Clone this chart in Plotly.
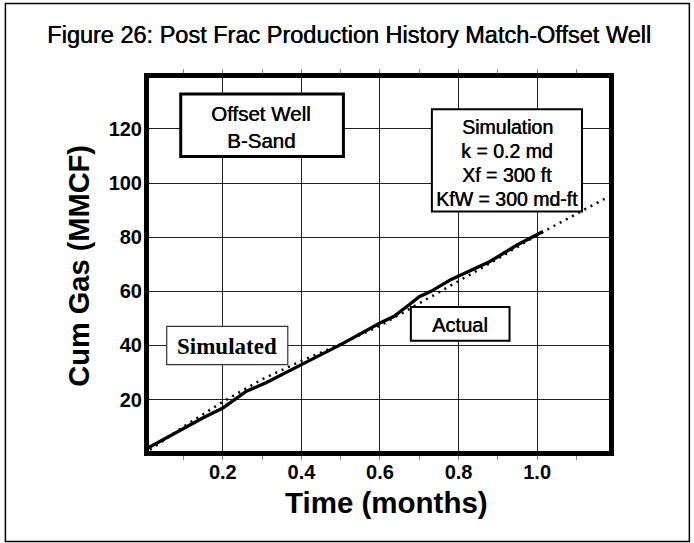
import plotly.graph_objects as go

# Actual production (solid) and simulated (dotted), cum gas in MMCF vs months
actual_time = [0.01, 0.05, 0.1, 0.15, 0.2, 0.26, 0.31, 0.4, 0.5, 0.6, 0.635, 0.675, 0.7, 0.73, 0.78, 0.88, 0.95, 1.015]
actual_gas = [2.2, 5.5, 9.3, 13.3, 16.9, 23.1, 26.2, 32.9, 40.3, 48.3, 50.7, 55.1, 58.0, 60.0, 64.3, 71.0, 77.2, 82.1]

sim_time = [0.0, 0.1, 0.2, 0.3, 0.4, 0.5, 0.6, 0.7, 0.8, 0.9, 1.0, 1.1, 1.18]
sim_gas = [0.0, 10.0, 19.2, 27.5, 34.3, 40.5, 47.3, 55.5, 63.8, 72.0, 80.8, 88.5, 94.8]

x_tick_vals = [0.2, 0.4, 0.6, 0.8, 1.0]
x_tick_text = ["0.2", "0.4", "0.6", "0.8", "1.0"]
y_tick_vals = [20, 40, 60, 80, 100, 120]

W, H = 694, 543
PLOT_L, PLOT_R, PLOT_T, PLOT_B = 149, 608.7, 78, 451.5

ARIAL = "Liberation Sans, Arial, sans-serif"
SERIF = "Liberation Serif, Times New Roman, serif"
HEAVY = "0.5px 0px 0px black"  # thickens the regular face a little


def px_x(p):
    return (p - PLOT_L) / (PLOT_R - PLOT_L)


def px_y(p):
    return (PLOT_B - p) / (PLOT_B - PLOT_T)


def box(x0, y0, x1, y1, width, color="black"):
    return dict(type="rect", xref="paper", yref="paper",
                x0=px_x(x0), x1=px_x(x1), y0=px_y(y1), y1=px_y(y0),
                line=dict(color=color, width=width), fillcolor="white", layer="above")


def label(text, x, y, size, family=ARIAL, angle=0, weight="normal", shadow=HEAVY):
    return dict(text=text, xref="paper", yref="paper", x=px_x(x), y=px_y(y),
                xanchor="center", yanchor="middle", showarrow=False, textangle=angle,
                font=dict(family=family, size=size, color="black", weight=weight, shadow=shadow))


fig = go.Figure()
fig.add_trace(go.Scatter(x=sim_time, y=sim_gas, mode="lines", name="Simulated",
                         line=dict(color="black", width=2.5, dash="2px,5px")))
fig.add_trace(go.Scatter(x=actual_time, y=actual_gas, mode="lines", name="Actual",
                         line=dict(color="black", width=3.3)))

shapes = [
    # outer frame
    dict(type="rect", xref="paper", yref="paper",
         x0=px_x(5.5), x1=px_x(689), y0=px_y(542), y1=px_y(3.5),
         line=dict(color="black", width=1.5), layer="below"),
    box(180.7, 94, 343.3, 156.7, 3),
    box(431.7, 109.3, 581.7, 211.7, 2),
    box(166.7, 326.7, 287.7, 365, 1.2, "#333333"),
    box(410.7, 307.3, 509.3, 341, 2),
]

annotations = [
    label("Offset Well", 261, 114, 20.5),
    label("B-Sand", 261, 141, 20.5),
    label("Simulation", 507, 127.5, 19.5),
    label("k = 0.2 md", 507, 151.5, 19.5),
    label("Xf = 300 ft", 507, 175.5, 19.5),
    label("KfW = 300 md-ft", 507, 199.5, 19.5),
    label("Simulated", 227, 347, 23, family=SERIF, weight="bold", shadow="none"),
    label("Actual", 460, 325, 20),
    label("Time (months)", 386, 503, 29.5, weight="bold", shadow="none"),
    label("Cum Gas (MMCF)", 79, 266, 29, angle=-90, weight="bold", shadow="none"),
]

fig.update_layout(
    width=W, height=H,
    margin=dict(l=PLOT_L, r=W - PLOT_R, t=PLOT_T, b=H - PLOT_B),
    paper_bgcolor="white", plot_bgcolor="white",
    showlegend=False,
    title=dict(text="Figure 26: Post Frac Production History Match-Offset Well",
               x=349 / W, xanchor="center", xref="container", y=1 - 35 / H, yanchor="middle",
               font=dict(family=ARIAL, size=23.5, color="black", shadow=HEAVY)),
    shapes=shapes,
    annotations=annotations,
)

fig.update_xaxes(range=[0.012, 1.183], tickvals=x_tick_vals, ticktext=x_tick_text,
                 showgrid=True, gridcolor="#222222", gridwidth=1.3,
                 showline=True, linecolor="black", linewidth=5, mirror="ticks",
                 ticks="outside", ticklen=4, tickcolor="#888888", tickwidth=1,
                 minor=dict(dtick=0.1, tick0=0.1, ticks="outside", ticklen=4, tickcolor="#888888", showgrid=False),
                 tickfont=dict(family=ARIAL, size=20, color="black", weight="bold"),
                 ticklabelstandoff=-5, zeroline=False, fixedrange=True)
fig.update_yaxes(range=[1.0, 138.8], tickvals=y_tick_vals,
                 showgrid=True, gridcolor="#222222", gridwidth=1.3,
                 showline=True, linecolor="black", linewidth=5, mirror=True,
                 ticks="", tickfont=dict(family=ARIAL, size=20, color="black", weight="bold"),
                 ticklabelstandoff=-2, zeroline=False, fixedrange=True)

fig.write_html("out.html", config={"displayModeBar": False},
               post_script="document.body.style.margin='0px';")
